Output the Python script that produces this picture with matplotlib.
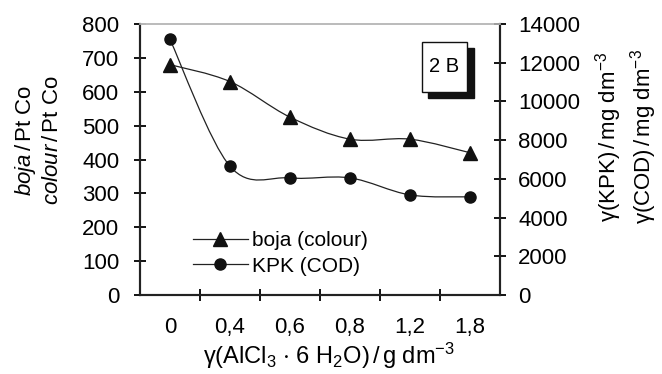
import numpy as np
import matplotlib.pyplot as plt
from matplotlib.path import Path
from matplotlib.patches import PathPatch, Rectangle
from matplotlib.lines import Line2D

plt.rcParams["font.family"] = ["Liberation Sans", "DejaVu Sans"]
plt.rcParams["mathtext.fontset"] = "custom"
plt.rcParams["mathtext.rm"] = "Liberation Sans"
plt.rcParams["mathtext.it"] = "Liberation Sans:italic"
plt.rcParams["mathtext.default"] = "regular"

doze = ["0", "0,4", "0,6", "0,8", "1,2", "1,8"]
boja = [680, 630, 525, 460, 460, 420]
kpk = [13200, 6650, 6050, 6050, 5170, 5070]

FS = 16


def glatka(ax, x, y, **kw):
    # Catmull-Rom krivulja kao kubni Bezier (kao "smoothed line" u Excelu)
    x = np.asarray(x, float)
    y = np.asarray(y, float)
    verts = [(x[0], y[0])]
    codes = [Path.MOVETO]
    n = len(x)
    for i in range(n - 1):
        i0 = max(i - 1, 0)
        i3 = min(i + 2, n - 1)
        c1 = (x[i] + (x[i + 1] - x[i0]) / 6, y[i] + (y[i + 1] - y[i0]) / 6)
        c2 = (x[i + 1] - (x[i3] - x[i]) / 6, y[i + 1] - (y[i3] - y[i]) / 6)
        verts += [c1, c2, (x[i + 1], y[i + 1])]
        codes += [Path.CURVE4] * 3
    ax.add_patch(PathPatch(Path(verts, codes), fill=False, **kw))


fig = plt.figure(figsize=(6.62, 3.74), dpi=100)
ax = fig.add_axes([140 / 662, 79 / 374, 360 / 662, 271 / 374])
ax2 = ax.twinx()

x = np.arange(len(doze))
glatka(ax, x, boja, lw=0.9, edgecolor="#222222")
ax.plot(x, boja, ls="none", marker="^", ms=9.5, color="#111111")
glatka(ax2, x, kpk, lw=0.9, edgecolor="#222222")
ax2.plot(x, kpk, ls="none", marker="o", ms=8, color="#111111")

ax.set_xlim(-0.5, 5.5)
ax.set_ylim(0, 800)
ax2.set_ylim(0, 14000)
ax.set_yticks(range(0, 801, 100))
ax2.set_yticks(range(0, 14001, 2000))
ax.set_xticks(np.arange(0.5, 5, 1))
ax.set_xticklabels([])
ax.set_xticks(x, minor=True)
ax.set_xticklabels(doze, minor=True)

for a in (ax, ax2):
    for s in a.spines.values():
        s.set_linewidth(1.5)
        s.set_color("#222222")
    a.spines["top"].set_color("#bbbbbb")
    a.spines["top"].set_linewidth(1.2)
ax.tick_params(axis="y", direction="inout", length=8, width=1.3, labelsize=FS, pad=11)
ax2.tick_params(axis="y", direction="inout", length=8, width=1.3, labelsize=FS, pad=9)
ax.tick_params(axis="x", which="major", direction="inout", length=8, width=1.3)
ax.tick_params(axis="x", which="minor", length=0, labelsize=FS, pad=16)

fig.text(38 / 662, 1 - 140 / 374,
         "$\\mathit{boja}\\,/\\,$Pt Co\n$\\mathit{colour}\\,/\\,$Pt Co",
         rotation=90, ha="center", va="center", fontsize=FS, linespacing=1.3)
fig.text(626 / 662, 1 - 137 / 374,
         "$\\gamma$(KPK)$\\,/\\,$mg dm$^{-3}$\n$\\gamma$(COD)$\\,/\\,$mg dm$^{-3}$",
         rotation=90, ha="center", va="center", fontsize=FS, linespacing=1.15)
fig.text(329 / 662, 1 - 356 / 374,
         "$\\gamma$(AlCl$_3$ $\\cdot$ 6 H$_2$O)$\\,/\\,$g dm$^{-3}$",
         ha="center", va="center", fontsize=17)

oznake = [Line2D([], [], color="#222222", lw=0.9, marker="^", ms=9.5, mfc="#111111", mec="#111111"),
          Line2D([], [], color="#222222", lw=0.9, marker="o", ms=8, mfc="#111111", mec="#111111")]
ax2.legend(oznake, ["boja (colour)", "KPK (COD)"], loc="upper left",
           bbox_to_anchor=(0.125, (295 - 223) / 271), frameon=False, fontsize=15,
           handlelength=2.6, handletextpad=0.2, labelspacing=0.3, borderaxespad=0)

# okvir "2 B" sa sjenom
fig.patches.append(Rectangle((428 / 662, 1 - 98 / 374), 46 / 662, 50 / 374,
                             transform=fig.transFigure, color="#111111"))
fig.patches.append(Rectangle((422 / 662, 1 - 92 / 374), 45 / 662, 50 / 374,
                             transform=fig.transFigure, facecolor="white",
                             edgecolor="#111111", lw=1))
fig.text(444 / 662, 1 - 67 / 374, "2 B", ha="center", va="center", fontsize=14.5)

fig.savefig("out.png", dpi=100)
